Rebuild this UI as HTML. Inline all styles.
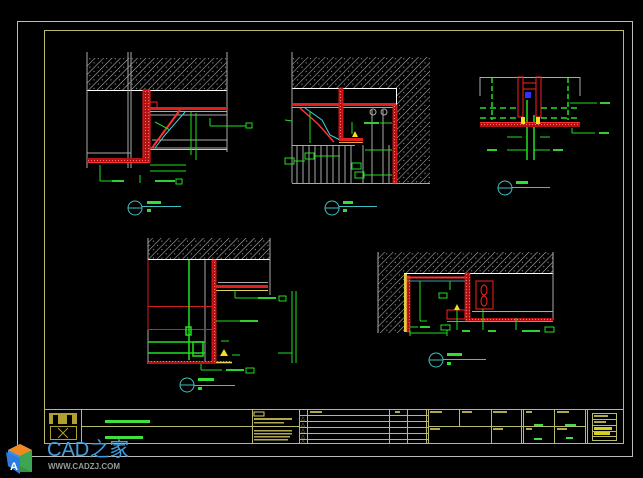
<!DOCTYPE html>
<html><head><meta charset="utf-8"><style>
html,body{margin:0;padding:0;background:#000;}
body{width:643px;height:478px;overflow:hidden;position:relative;}
svg{position:absolute;left:0;top:0;}
.wm{position:absolute;font-family:"Liberation Sans","Noto Sans CJK SC",sans-serif;}
</style></head><body>
<svg width="643" height="478" viewBox="0 0 643 478" xmlns="http://www.w3.org/2000/svg">
<defs>
<pattern id="h" width="6" height="6" patternUnits="userSpaceOnUse" patternTransform="rotate(45)">
<rect width="6" height="6" fill="#000"/><line x1="0" y1="0" x2="0" y2="6" stroke="#b8b8b8" stroke-width="1.1"/>
<circle cx="3" cy="2" r="0.6" fill="#999"/></pattern>
<pattern id="rh" width="3" height="3" patternUnits="userSpaceOnUse"><rect width="3" height="3" fill="#b01010"/><circle cx="1.5" cy="1.5" r="0.6" fill="#ff7070"/></pattern>
</defs>
<rect width="643" height="478" fill="#000"/>
<rect x="17.5" y="21.5" width="615" height="435" fill="none" stroke="#bcbcbc" stroke-width="1"/>
<rect x="44.5" y="30.5" width="579" height="413" fill="none" stroke="#b9b970" stroke-width="1"/>

<!-- ===== Detail A ===== -->
<rect x="87" y="58" width="140" height="32" fill="url(#h)"/>
<line x1="87" y1="90.5" x2="227" y2="90.5" stroke="#fff"/>
<g stroke="#aaa" stroke-width="1" fill="none">
<line x1="87" y1="52" x2="87" y2="168"/><line x1="128" y1="52" x2="128" y2="168"/><line x1="131" y1="52" x2="131" y2="168"/>
<line x1="227" y1="52" x2="227" y2="152"/>
<line x1="150" y1="115" x2="227" y2="115"/><line x1="152" y1="140" x2="227" y2="140"/><line x1="150" y1="148" x2="227" y2="148"/>
<line x1="87" y1="153" x2="131" y2="153"/>
</g>
<line x1="150" y1="149.5" x2="227" y2="149.5" stroke="#e8d060"/>
<rect x="143" y="90" width="7" height="72" fill="url(#rh)" stroke="#ff2020" stroke-width="1"/>
<rect x="150" y="102" width="7" height="7" fill="none" stroke="#ff2020"/>
<rect x="150" y="107" width="77" height="3" fill="#e02020"/>
<line x1="150" y1="111.5" x2="227" y2="111.5" stroke="#e8a040"/>
<line x1="180" y1="110" x2="152" y2="148" stroke="#ff3030" stroke-width="2"/>
<path d="M185 112 L165 135 L155 148" stroke="#40d0e0" fill="none"/>
<rect x="87" y="158" width="63" height="4" fill="url(#rh)"/>
<line x1="87" y1="162.5" x2="150" y2="162.5" stroke="#ff3030"/>
<g stroke="#20e020" fill="none">
<line x1="191" y1="112" x2="191" y2="155"/><line x1="196" y1="113" x2="196" y2="160"/>
<line x1="210" y1="118" x2="210" y2="126"/><line x1="210" y1="126" x2="227" y2="126"/>
<line x1="227" y1="126" x2="246" y2="126"/><rect x="246" y="123" width="6" height="5"/>
<line x1="150" y1="165" x2="186" y2="165"/><line x1="150" y1="171" x2="186" y2="171"/>
<line x1="100" y1="165" x2="100" y2="181"/><line x1="100" y1="181" x2="122" y2="181"/>
<line x1="140" y1="175" x2="140" y2="183"/><rect x="176" y="179" width="6" height="5"/>
<line x1="155" y1="122" x2="170" y2="130"/>
</g>
<rect x="155" y="180" width="20" height="2" fill="#30d030"/>
<rect x="112" y="180" width="12" height="2" fill="#30d030"/>
<circle cx="135" cy="208" r="7" fill="none" stroke="#40c0c0"/>
<line x1="128" y1="208" x2="142" y2="208" stroke="#40c0c0"/>
<line x1="142" y1="206.5" x2="181" y2="206.5" stroke="#40c0c0"/>
<rect x="147" y="201" width="14" height="3" fill="#30e030"/><rect x="147" y="209" width="4" height="3" fill="#30e030"/>

<!-- ===== Detail B ===== -->
<path d="M292 57 H430 V183 H397 V88 H292 Z" fill="url(#h)"/>
<line x1="292" y1="88.5" x2="396" y2="88.5" stroke="#fff"/>
<line x1="396.5" y1="88" x2="396.5" y2="105" stroke="#fff"/>
<g stroke="#aaa" fill="none">
<line x1="292" y1="52" x2="292" y2="183"/><line x1="292" y1="183.5" x2="430" y2="183.5"/>
<line x1="292" y1="145.5" x2="355" y2="145.5"/>
<line x1="297" y1="145" x2="297" y2="183"/><line x1="303" y1="145" x2="303" y2="183"/><line x1="309" y1="145" x2="309" y2="183"/><line x1="315" y1="145" x2="315" y2="183"/><line x1="321" y1="145" x2="321" y2="183"/><line x1="327" y1="145" x2="327" y2="183"/><line x1="333" y1="145" x2="333" y2="183"/><line x1="339" y1="145" x2="339" y2="183"/><line x1="345" y1="145" x2="345" y2="183"/><line x1="351" y1="145" x2="351" y2="183"/><line x1="363" y1="145" x2="363" y2="183"/><line x1="372" y1="110" x2="372" y2="183"/><line x1="383" y1="110" x2="383" y2="183"/><line x1="389" y1="145" x2="389" y2="183"/>
<circle cx="373" cy="112" r="3"/><circle cx="384" cy="112" r="3"/>
</g>
<rect x="292" y="103" width="104" height="3" fill="#e02020"/>
<line x1="292" y1="107.5" x2="396" y2="107.5" stroke="#e8a040"/>
<rect x="339" y="88" width="4" height="52" fill="url(#rh)" stroke="#ff2020" stroke-width="0.8"/>
<rect x="393" y="105" width="4" height="78" fill="url(#rh)" stroke="#ff2020" stroke-width="0.8"/>
<path d="M305 108 L322 120 L330 135 L340 140" stroke="#40d0e0" fill="none"/>
<path d="M300 108 L318 124 L334 142" stroke="#ff3030" stroke-width="1.5" fill="none"/>
<rect x="339" y="138" width="24" height="3" fill="#e02020"/>
<line x1="339" y1="142.5" x2="363" y2="142.5" stroke="#e8a040"/>
<polygon points="355,131 352,137 358,137" fill="#f0e020"/>
<g stroke="#20e020" fill="none">
<line x1="310" y1="111" x2="310" y2="143"/><line x1="352" y1="122" x2="352" y2="134"/>
<rect x="285" y="158" width="9" height="6"/><line x1="294" y1="161" x2="305" y2="161"/>
<rect x="305" y="153" width="9" height="6"/><line x1="314" y1="156" x2="340" y2="156"/>
<rect x="352" y="163" width="9" height="6"/><rect x="355" y="172" width="9" height="6"/>
<line x1="364" y1="175" x2="392" y2="175"/><line x1="365" y1="150" x2="392" y2="150"/>
<line x1="285" y1="120" x2="292" y2="121"/><line x1="380" y1="123" x2="392" y2="123"/>
</g>
<rect x="364" y="122" width="15" height="2" fill="#30d030"/>
<circle cx="332" cy="208" r="7" fill="none" stroke="#40c0c0"/>
<line x1="325" y1="208" x2="339" y2="208" stroke="#40c0c0"/>
<line x1="339" y1="206.5" x2="377" y2="206.5" stroke="#40c0c0"/>
<rect x="343" y="201" width="10" height="3" fill="#30e030"/><rect x="343" y="209" width="4" height="3" fill="#30e030"/>

<!-- ===== Detail C ===== -->
<g stroke="#aaa" fill="none">
<line x1="480" y1="77.5" x2="580" y2="77.5"/><line x1="480" y1="77" x2="480" y2="96"/><line x1="580" y1="77" x2="580" y2="96"/>
</g>
<rect x="518" y="77" width="5" height="40" fill="none" stroke="#ff2020"/>
<rect x="536" y="77" width="5" height="40" fill="none" stroke="#ff2020"/>
<rect x="523" y="83" width="13" height="6" fill="none" stroke="#ff2020"/>
<rect x="525" y="92" width="6" height="6" fill="#3030ff"/>
<g stroke="#20e020" fill="none" stroke-width="1.5">
<line x1="480" y1="108" x2="518" y2="108" stroke-dasharray="6,4"/><line x1="541" y1="108" x2="580" y2="108" stroke-dasharray="6,4"/>
<line x1="480" y1="118" x2="518" y2="118" stroke-dasharray="6,4"/><line x1="541" y1="118" x2="580" y2="118" stroke-dasharray="6,4"/>
<line x1="492" y1="78" x2="492" y2="120" stroke-dasharray="5,3"/><line x1="568" y1="78" x2="568" y2="120" stroke-dasharray="5,3"/>
<line x1="527" y1="100" x2="527" y2="160"/><line x1="534" y1="115" x2="534" y2="160"/>
</g>
<rect x="480" y="123" width="100" height="4" fill="url(#rh)"/>
<line x1="480" y1="122.5" x2="580" y2="122.5" stroke="#ff3030"/>
<rect x="521" y="117" width="4" height="7" fill="#f0e020"/><rect x="536" y="117" width="4" height="7" fill="#f0e020"/>
<g stroke="#20e020" fill="none">
<line x1="570" y1="103" x2="597" y2="103"/><line x1="572" y1="128" x2="572" y2="133"/><line x1="572" y1="133" x2="595" y2="133"/>
<line x1="507" y1="137" x2="522" y2="137"/><line x1="540" y1="137" x2="550" y2="137"/>
<line x1="507" y1="150" x2="527" y2="150"/><line x1="534" y1="150" x2="550" y2="150"/>
</g>
<rect x="600" y="102" width="10" height="2" fill="#30d030"/><rect x="599" y="132" width="10" height="2" fill="#30d030"/>
<rect x="487" y="149" width="10" height="2" fill="#30d030"/><rect x="553" y="149" width="10" height="2" fill="#30d030"/>
<circle cx="505" cy="188" r="7" fill="none" stroke="#40c0c0"/>
<line x1="498" y1="188" x2="512" y2="188" stroke="#40c0c0"/>
<line x1="512" y1="187.5" x2="550" y2="187.5" stroke="#40c0c0"/>
<rect x="516" y="181" width="12" height="3" fill="#30e030"/>

<!-- ===== Detail D ===== -->
<rect x="148" y="238" width="122" height="21" fill="url(#h)"/>
<line x1="148" y1="259.5" x2="270" y2="259.5" stroke="#fff"/>
<g stroke="#aaa" fill="none">
<line x1="148" y1="238" x2="148" y2="364"/><line x1="270" y1="238" x2="270" y2="295"/>
<line x1="218" y1="282.5" x2="268" y2="282.5"/><line x1="205" y1="260" x2="205" y2="362"/>
</g>
<line x1="216" y1="290.5" x2="268" y2="290.5" stroke="#e8d060"/>
<rect x="212" y="260" width="4" height="102" fill="url(#rh)" stroke="#ff2020" stroke-width="0.8"/>
<rect x="216" y="285" width="52" height="3" fill="#e02020"/>
<line x1="148" y1="306.5" x2="212" y2="306.5" stroke="#d02020"/>
<line x1="148" y1="329.5" x2="212" y2="329.5" stroke="#d02020"/>
<line x1="148" y1="260" x2="148" y2="330" stroke="#d02020"/>
<g stroke="#20e020" fill="none" stroke-width="1.5">
<line x1="189" y1="260" x2="189" y2="360"/>
<line x1="148" y1="342" x2="205" y2="342"/><line x1="148" y1="353" x2="205" y2="353"/>
<rect x="186" y="327" width="5" height="8"/><rect x="193" y="342" width="10" height="14"/>
</g>
<rect x="148" y="361" width="84" height="3" fill="url(#rh)"/>
<line x1="216" y1="362.5" x2="232" y2="362.5" stroke="#e8d060"/>
<polygon points="224,349 220,356 228,356" fill="#f0e020"/>
<g stroke="#20e020" fill="none">
<line x1="235" y1="290" x2="235" y2="298"/><line x1="235" y1="298" x2="258" y2="298"/><rect x="279" y="296" width="7" height="5"/>
<line x1="216" y1="321" x2="240" y2="321"/><line x1="221" y1="341" x2="229" y2="341"/>
<line x1="232" y1="355" x2="240" y2="355"/><line x1="201" y1="364" x2="201" y2="370"/><line x1="201" y1="370" x2="222" y2="370"/>
<rect x="246" y="368" width="8" height="5"/>
<line x1="292" y1="291" x2="292" y2="363"/><line x1="296" y1="291" x2="296" y2="363"/><line x1="278" y1="353" x2="292" y2="353"/>
</g>
<rect x="258" y="297" width="18" height="2" fill="#30d030"/><rect x="240" y="320" width="18" height="2" fill="#30d030"/>
<rect x="226" y="369" width="18" height="2" fill="#30d030"/>
<circle cx="187" cy="385" r="7" fill="none" stroke="#40c0c0"/>
<line x1="180" y1="385" x2="194" y2="385" stroke="#40c0c0"/>
<line x1="194" y1="385.5" x2="235" y2="385.5" stroke="#40c0c0"/>
<rect x="198" y="378" width="16" height="3" fill="#30e030"/><rect x="198" y="387" width="4" height="3" fill="#30e030"/>

<!-- ===== Detail E ===== -->
<path d="M378 252 H553 V273 H404 V333 H378 Z" fill="url(#h)"/>
<line x1="404" y1="273.5" x2="553" y2="273.5" stroke="#fff"/>
<g stroke="#aaa" fill="none"><line x1="378" y1="252" x2="378" y2="333"/><line x1="553" y1="252" x2="553" y2="320"/><line x1="472" y1="311.5" x2="553" y2="311.5"/></g>
<rect x="404" y="274" width="3" height="58" fill="#d8d040"/>
<rect x="407" y="276" width="3" height="56" fill="url(#rh)" stroke="#ff2020" stroke-width="0.6"/>
<line x1="407" y1="277.5" x2="468" y2="277.5" stroke="#ff3030" stroke-width="2"/>
<line x1="407" y1="281" x2="465" y2="281" stroke="#30a0a0"/>
<rect x="465" y="273" width="5" height="46" fill="url(#rh)" stroke="#ff2020" stroke-width="0.6"/>
<rect x="447" y="310" width="18" height="9" fill="none" stroke="#ff2020"/>
<rect x="476" y="281" width="17" height="28" fill="none" stroke="#ff2020"/>
<ellipse cx="484" cy="290" rx="3" ry="5" fill="none" stroke="#ff2020"/><ellipse cx="484" cy="301" rx="3" ry="5" fill="none" stroke="#ff2020"/>
<rect x="465" y="318" width="88" height="3" fill="url(#rh)"/>
<line x1="447" y1="321.5" x2="553" y2="321.5" stroke="#40b0c0"/>
<polygon points="457,304 454,310 460,310" fill="#f0e020"/>
<g stroke="#20e020" fill="none">
<line x1="420" y1="281" x2="420" y2="321"/><line x1="420" y1="321" x2="427" y2="321"/>
<line x1="450" y1="281" x2="450" y2="290"/><rect x="439" y="293" width="8" height="5"/>
<line x1="410" y1="327" x2="418" y2="327"/><rect x="441" y="325" width="9" height="5"/>
<line x1="410" y1="333" x2="447" y2="333"/><line x1="410" y1="330" x2="410" y2="336"/><line x1="447" y1="330" x2="447" y2="336"/>
<line x1="457" y1="310" x2="457" y2="330"/><line x1="483" y1="309" x2="483" y2="330"/><line x1="516" y1="318" x2="516" y2="330"/>
<rect x="545" y="327" width="9" height="5"/>
</g>
<rect x="420" y="326" width="10" height="2" fill="#30d030"/><rect x="462" y="330" width="8" height="2" fill="#30d030"/>
<rect x="488" y="330" width="8" height="2" fill="#30d030"/><rect x="522" y="330" width="18" height="2" fill="#30d030"/>
<circle cx="436" cy="360" r="7" fill="none" stroke="#40c0c0"/>
<line x1="429" y1="360" x2="443" y2="360" stroke="#40c0c0"/>
<line x1="443" y1="359.5" x2="486" y2="359.5" stroke="#40c0c0"/>
<rect x="447" y="353" width="15" height="3" fill="#30e030"/><rect x="447" y="362" width="4" height="3" fill="#30e030"/>

<!-- ===== Title block ===== -->
<g stroke="#b9b970" fill="none" stroke-width="1">
<rect x="44.5" y="409.5" width="579" height="34"/>
<line x1="81.5" y1="410" x2="81.5" y2="444"/><line x1="252.5" y1="410" x2="252.5" y2="444"/>
<line x1="299.5" y1="410" x2="299.5" y2="444"/><line x1="307.5" y1="410" x2="307.5" y2="444"/>
<line x1="389.5" y1="410" x2="389.5" y2="444"/><line x1="407.5" y1="410" x2="407.5" y2="444"/>
<line x1="426.5" y1="410" x2="426.5" y2="444"/><line x1="428.5" y1="410" x2="428.5" y2="444"/>
<line x1="459.5" y1="410" x2="459.5" y2="426"/><line x1="491.5" y1="410" x2="491.5" y2="444"/>
<line x1="521.5" y1="410" x2="521.5" y2="444"/><line x1="523.5" y1="410" x2="523.5" y2="444"/>
<line x1="554.5" y1="410" x2="554.5" y2="444"/><line x1="585.5" y1="410" x2="585.5" y2="444"/><line x1="587.5" y1="410" x2="587.5" y2="444"/>
<line x1="81" y1="426.5" x2="252" y2="426.5"/><line x1="252" y1="426.5" x2="299" y2="426.5"/>
<line x1="428" y1="426.5" x2="585" y2="426.5"/>
<line x1="299" y1="415.5" x2="428" y2="415.5"/><line x1="299" y1="421.5" x2="428" y2="421.5"/><line x1="299" y1="427.5" x2="428" y2="427.5"/><line x1="299" y1="433.5" x2="428" y2="433.5"/><line x1="299" y1="439.5" x2="428" y2="439.5"/>
<rect x="592.5" y="413.5" width="24" height="27"/>
<line x1="592" y1="419.5" x2="616" y2="419.5"/><line x1="592" y1="425.5" x2="616" y2="425.5"/><line x1="592" y1="431.5" x2="616" y2="431.5"/><line x1="592" y1="436.5" x2="616" y2="436.5"/>
</g>
<rect x="49" y="413" width="28" height="11" fill="#b0a030"/>
<rect x="53" y="415" width="5" height="9" fill="#000"/><rect x="67" y="415" width="5" height="9" fill="#000"/>
<rect x="50.5" y="426.5" width="26" height="13" fill="none" stroke="#b0a030"/>
<path d="M58 428 L63 433 L58 438 M68 428 L63 433 L68 438" stroke="#b0a030" fill="none"/>
<rect x="105" y="420" width="45" height="3" fill="#40e040"/>
<rect x="105" y="436" width="38" height="3" fill="#40e040"/>
<rect x="254" y="412" width="10" height="4" fill="none" stroke="#d8d060"/>
<g fill="#b0a850"><rect x="254" y="418" width="38" height="2"/><rect x="254" y="422" width="30" height="1.5"/><rect x="254" y="430" width="38" height="1.5"/><rect x="254" y="433" width="38" height="1.5"/><rect x="254" y="436" width="36" height="1.5"/><rect x="254" y="439" width="34" height="1.5"/>
<rect x="310" y="411" width="12" height="2"/><rect x="395" y="411" width="5" height="2"/>
<rect x="430" y="411" width="12" height="2"/><rect x="462" y="411" width="10" height="2"/><rect x="493" y="411" width="14" height="2"/>
<rect x="430" y="428" width="10" height="2"/><rect x="493" y="428" width="10" height="2"/>
<rect x="526" y="411" width="6" height="2"/><rect x="557" y="411" width="12" height="2"/><rect x="526" y="428" width="6" height="2"/><rect x="557" y="428" width="10" height="2"/>
<rect x="594" y="415" width="14" height="2"/><rect x="594" y="421" width="12" height="2"/></g>
<g fill="#d8d020"><rect x="594" y="427" width="18" height="3"/><rect x="594" y="432" width="16" height="3"/></g>
<g fill="#b0a850" font-size="5" font-family="Liberation Sans,sans-serif"><text x="301" y="420">△</text><text x="301" y="426">△</text><text x="301" y="432">△</text><text x="301" y="438">△</text><text x="301" y="443">△</text></g>
<g fill="#40e040"><rect x="534" y="424" width="9" height="2"/><rect x="565" y="424" width="11" height="2"/><rect x="534" y="438" width="8" height="2"/><rect x="566" y="437" width="7" height="2"/></g>

<polygon points="20,444 32,450 32,472 20,466" fill="#2a6fd0"/>
<polygon points="8,450 20,444 20,466 8,458" fill="#3a90e8"/>
<polygon points="8,450 20,444 32,450 20,456" fill="#f08a20"/>
<polygon points="20,456 32,450 32,472 20,472" fill="#40b040" opacity="0.85"/>
<polygon points="6,452 20,458 20,474 8,466" fill="#2c7ce0"/>
<text x="10" y="470" font-family="Liberation Sans,sans-serif" font-weight="bold" font-size="11" fill="#fff">A</text>
</svg>
<div class="wm" style="left:47px;top:440px;font-size:20px;color:#3fa0e0;line-height:20px;">CAD之家</div>
<div class="wm" style="left:48px;top:462px;font-size:8px;color:#9a9a9a;font-weight:bold;line-height:9px;">WWW.CADZJ.COM</div>
</body></html>
